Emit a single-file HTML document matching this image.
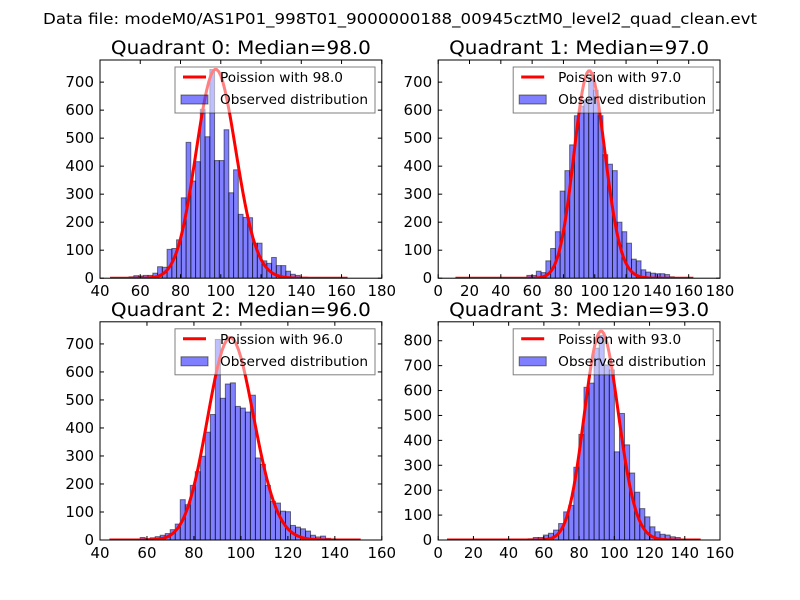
<!DOCTYPE html>
<html><head><meta charset="utf-8"><style>
body{margin:0;background:#fff;}
svg{display:block;font-family:"DejaVu Sans","Liberation Sans",sans-serif;}
</style></head><body>
<svg id="chart" width="800" height="600" viewBox="0 0 800 600" xmlns="http://www.w3.org/2000/svg">
<rect width="800" height="600" fill="#fff"/>
<text x="400" y="24" font-size="15" text-anchor="middle" textLength="714" lengthAdjust="spacingAndGlyphs">Data file: modeM0/AS1P01_998T01_9000000188_00945cztM0_level2_quad_clean.evt</text>
</svg>
<script>
// Panel data
const medians = [98.0, 97.0, 96.0, 93.0];
const binStarts = [45, 11, 44.3, 5];
const binEnds = [163, 163, 151, 149];
const xTicks0 = [40,60,80,100,120,140,160,180];
const xTicks1 = [0,20,40,60,80,100,120,140,160,180];
const xTicks2 = [40,60,80,100,120,140,160];
const xTicks3 = [0,20,40,60,80,100,120,140,160];
const yTicks0 = [0,100,200,300,400,500,600,700];
const yTicks1 = [0,100,200,300,400,500,600,700];
const yTicks2 = [0,100,200,300,400,500,600,700];
const yTicks3 = [0,100,200,300,400,500,600,700,800];
const yMaxes = [779, 779, 779, 876];
const curvePeaks = [745, 740, 722, 838];
const counts0 = [0,0,0,0,5,9,8,10,10,18,41,39,103,106,137,287,485,347,416,603,505,745,420,420,530,305,387,228,217,216,125,125,62,53,74,45,45,25,14,10,2,1,1,0,0,0,0,0,0,0];
const counts1 = [0,0,0,0,0,0,0,0,0,0,0,0,1,2,2,10,10,25,20,62,106,166,311,384,476,580,614,637,717,671,580,441,407,384,200,166,125,68,62,30,22,18,16,16,13,5,2,0,0,0];
const counts2 = [0,0,0,0,0,0,9,5,8,12,17,23,37,57,144,126,195,244,299,385,448,716,506,557,561,477,471,457,517,293,270,195,138,132,103,101,52,46,40,32,17,11,14,6,4,2,2,1,0,0];
const counts3 = [0,0,0,0,0,0,0,0,0,0,0,0,0,0,1,2,5,10,10,20,27,40,66,113,139,292,424,613,630,770,822,703,683,354,508,382,269,192,126,93,53,33,23,20,13,10,3,2,1,0];

const xTicksAll = [xTicks0,xTicks1,xTicks2,xTicks3];
const yTicksAll = [yTicks0,yTicks1,yTicks2,yTicks3];
const countsAll = [counts0,counts1,counts2,counts3];

const NS = "http://www.w3.org/2000/svg";
const svg = document.getElementById('chart');
function mk(tag, attrs, parent){
  const e = document.createElementNS(NS, tag);
  for (const k in attrs) e.setAttribute(k, attrs[k]);
  (parent||svg).appendChild(e);
  return e;
}
function lgamma(n){ let s=0; for(let i=2;i<=n;i++) s+=Math.log(i); return s; }

const boxes = [
  {l:100, t:60, w:281.8, h:218.2},
  {l:438.2, t:60, w:281.8, h:218.2},
  {l:100, t:321.8, w:281.8, h:218.2},
  {l:438.2, t:321.8, w:281.8, h:218.2}
];

for (let q=0;q<4;q++){
  const b = boxes[q];
  const xt = xTicksAll[q], yt = yTicksAll[q];
  const xmin = xt[0], xmax = xt[xt.length-1], ymax = yMaxes[q];
  const X = v => b.l + (v - xmin) / (xmax - xmin) * b.w;
  const Y = v => b.t + b.h - v / ymax * b.h;
  const g = mk('g', {});
  
  
  const cp = mk('clipPath', {id:'clip'+q}, g);
  mk('rect', {x:b.l, y:b.t, width:b.w, height:b.h}, cp);
  const plot = mk('g', {'clip-path':'url(#clip'+q+')'}, g);

  const c = countsAll[q];
  const bw = (binEnds[q] - binStarts[q]) / c.length;
  for (let i=0;i<c.length;i++){
    if (c[i] <= 0) continue;
    const x0 = X(binStarts[q] + i*bw), x1 = X(binStarts[q] + (i+1)*bw);
    const r = mk('rect', {x:x0, y:Y(c[i]), width:x1-x0, height:Y(0)-Y(c[i]), fill:'#0000ff', 'fill-opacity':0.5, stroke:'#000', 'stroke-opacity':0.5, 'stroke-width':1}, plot);
    
    
  }
  const mu = medians[q];
  const k0 = Math.round(binStarts[q]), k1 = Math.round(binEnds[q]);
  let vals = [], mx = 0;
  for (let k=k0;k<=k1;k++){ const p = Math.exp(k*Math.log(mu) - mu - lgamma(k)); vals.push([k,p]); if(p>mx) mx=p; }
  const d = vals.map((kp,i)=>(i?'L':'M') + X(kp[0]).toFixed(2) + ' ' + Y(kp[1]/mx*curvePeaks[q]).toFixed(2)).join(' ');
  const pl = mk('path', {d:d, fill:'none', stroke:'#ff0000', 'stroke-width':3, 'stroke-linejoin':'round'}, plot);
  
  

  mk('rect', {x:b.l, y:b.t, width:b.w, height:b.h, fill:'none', stroke:'#000', 'stroke-width':1}, g);
  xt.forEach(v=>{
    const x = X(v);
    mk('line', {x1:x, x2:x, y1:b.t+b.h, y2:b.t+b.h-4, stroke:'#000'}, g);
    mk('line', {x1:x, x2:x, y1:b.t, y2:b.t+4, stroke:'#000'}, g);
    const t = mk('text', {x:x, y:b.t+b.h+18, 'font-size':15, 'text-anchor':'middle'}, g);
    t.textContent = v;
    
    
  });
  yt.forEach(v=>{
    const y = Y(v);
    mk('line', {x1:b.l, x2:b.l+4, y1:y, y2:y, stroke:'#000'}, g);
    mk('line', {x1:b.l+b.w, x2:b.l+b.w-4, y1:y, y2:y, stroke:'#000'}, g);
    const t = mk('text', {x:b.l-6, y:y+5, 'font-size':15, 'text-anchor':'end'}, g);
    t.textContent = v;
    
    
  });
  const tt = mk('text', {x:b.l+b.w/2, y:b.t-6, 'font-size':19, 'text-anchor':'middle', textLength:260, lengthAdjust:'spacingAndGlyphs'}, g);
  tt.textContent = 'Quadrant ' + q + ': Median=' + medians[q].toFixed(1);
  
  

  const lx = b.l + 75, ly = b.t + 7;
  const lg = mk('g', {}, g);
  
  
  mk('rect', {x:lx, y:ly, width:200, height:46, fill:'#fff', 'fill-opacity':0.5, stroke:'#000', 'stroke-opacity':0.5, 'stroke-width':1}, lg);
  mk('line', {x1:lx+8, x2:lx+31, y1:ly+10, y2:ly+10, stroke:'#ff0000', 'stroke-width':3}, lg);
  const t1 = mk('text', {x:lx+45, y:ly+15, 'font-size':13.5, textLength:123, lengthAdjust:'spacingAndGlyphs'}, lg);
  t1.textContent = 'Poission with ' + medians[q].toFixed(1);
  
  
  mk('rect', {x:lx+6, y:ly+28, width:27, height:9, fill:'#0000ff', 'fill-opacity':0.5, stroke:'#000', 'stroke-opacity':0.5}, lg);
  const t2 = mk('text', {x:lx+45, y:ly+37, 'font-size':13.5, textLength:148, lengthAdjust:'spacingAndGlyphs'}, lg);
  t2.textContent = 'Observed distribution';
  
  
}
</script>
</body></html>
